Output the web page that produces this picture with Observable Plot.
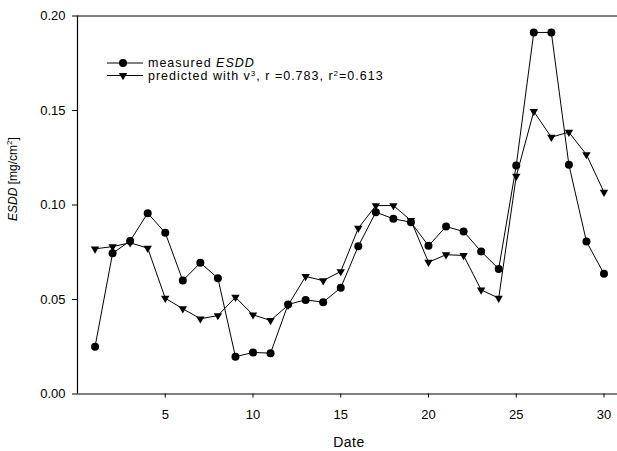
<!DOCTYPE html>
<html>
<head>
<meta charset="utf-8">
<script src="https://cdn.jsdelivr.net/npm/d3@7"></script>
<script src="https://cdn.jsdelivr.net/npm/@observablehq/plot@0.6"></script>
<style>
  html, body { margin: 0; padding: 0; background: #fff; }
  #chart svg { display: block; }
</style>
</head>
<body>
<div id="chart"></div>
<script>
const days = [1,2,3,4,5,6,7,8,9,10,11,12,13,14,15,16,17,18,19,20,21,22,23,24,25,26,27,28,29,30];
const measured = [0.025,0.0745,0.081,0.0957,0.0853,0.060,0.0694,0.0613,0.0197,0.022,0.0216,0.0474,0.0498,0.0486,0.0562,0.0782,0.0962,0.0927,0.0909,0.0784,0.0886,0.086,0.0754,0.0662,0.1209,0.1913,0.1913,0.1213,0.0807,0.0636];
const predicted = [0.0768,0.078,0.080,0.0772,0.0507,0.0451,0.0398,0.0415,0.0512,0.0419,0.0389,0.047,0.0622,0.060,0.0648,0.0877,0.0997,0.0997,0.0918,0.0697,0.0737,0.0733,0.0551,0.0507,0.1152,0.1495,0.1359,0.1385,0.1267,0.1068];
const xTicks = [5,10,15,20,25,30];
const yTicks = [0,0.05,0.10,0.15,0.20];

const data = days.map((d,i) => ({day: d, measured: measured[i], predicted: predicted[i]}));

const triangleDown = {
  draw(context, size) {
    const s = Math.sqrt(size / Math.PI);
    const w = 2.1 * s, h = 1.8 * s;
    context.moveTo(-w/2, -h/3);
    context.lineTo(w/2, -h/3);
    context.lineTo(0, 2*h/3);
    context.closePath();
  }
};

const font = "'Liberation Sans', Arial, Helvetica, sans-serif";

const chart = Plot.plot({
  width: 617,
  height: 451,
  marginLeft: 77,
  marginRight: 0,
  marginTop: 15.5,
  marginBottom: 57.5,
  style: {fontFamily: font, fontSize: "13px", color: "#000", background: "#fff"},
  x: {domain: [0, 30.77], ticks: xTicks, tickSize: 4, tickPadding: 12, label: null},
  y: {domain: [0, 0.2], ticks: yTicks, tickFormat: d3.format(".2f"), tickSize: 5, tickPadding: 7, label: null},
  marks: [
    Plot.ruleX([0], {stroke: "#000", strokeWidth: 1.2}),
    Plot.ruleY([0], {stroke: "#000", strokeWidth: 1.2}),
    Plot.ruleY([0.2], {stroke: "#000", strokeWidth: 1}),
    Plot.line(data, {x: "day", y: "predicted", stroke: "#000", strokeWidth: 1}),
    Plot.line(data, {x: "day", y: "measured", stroke: "#000", strokeWidth: 1}),
    Plot.dot(data, {x: "day", y: "predicted", symbol: triangleDown, r: 4, fill: "#000", stroke: "none"}),
    Plot.dot(data, {x: "day", y: "measured", symbol: "circle", r: 4, fill: "#000", stroke: "none"})
  ]
});

document.getElementById("chart").appendChild(chart);

const svg = d3.select(chart);
// Axis titles
svg.append("text")
  .attr("x", 349).attr("y", 447)
  .attr("text-anchor", "middle")
  .attr("font-family", font).attr("font-size", 14).attr("letter-spacing", 0.5).attr("fill", "#000")
  .text("Date");

const yl = svg.append("text")
  .attr("transform", "translate(17,179) rotate(-90)")
  .attr("text-anchor", "middle")
  .attr("font-family", font).attr("font-size", 12).attr("fill", "#000");
yl.append("tspan").attr("font-style", "italic").text("ESDD");
yl.append("tspan").text(" [mg/cm");
yl.append("tspan").attr("font-size", 8).attr("dy", -5).text("2");
yl.append("tspan").attr("dy", 5).text("]");

// Legend
const legend = svg.append("g").attr("font-family", font).attr("font-size", 12.5)
  .attr("letter-spacing", 1.0).attr("fill", "#000").attr("text-anchor", "start");
const rows = [
  {y: 63, sym: d3.symbol().type(d3.symbolCircle).size(Math.PI * 16)},
  {y: 75.5, sym: d3.symbol().type(triangleDown).size(Math.PI * 16)}
];
rows.forEach(r => {
  legend.append("line").attr("x1", 107).attr("x2", 143).attr("y1", r.y).attr("y2", r.y)
    .attr("stroke", "#000").attr("stroke-width", 1);
  legend.append("path").attr("d", r.sym()).attr("transform", `translate(123,${r.y})`).attr("fill", "#000");
});
const t1 = legend.append("text").attr("x", 148).attr("y", 67).attr("text-anchor", "start");
t1.append("tspan").text("measured ");
t1.append("tspan").attr("font-style", "italic").text("ESDD");
const t2 = legend.append("text").attr("x", 148).attr("y", 80).attr("text-anchor", "start");
t2.append("tspan").text("predicted with v");
t2.append("tspan").attr("font-size", 8).attr("dy", -4.5).text("3");
t2.append("tspan").attr("dy", 4.5).text(", r =0.783, r");
t2.append("tspan").attr("font-size", 8).attr("dy", -4.5).text("2");
t2.append("tspan").attr("dy", 4.5).text("=0.613");
</script>
</body>
</html>
